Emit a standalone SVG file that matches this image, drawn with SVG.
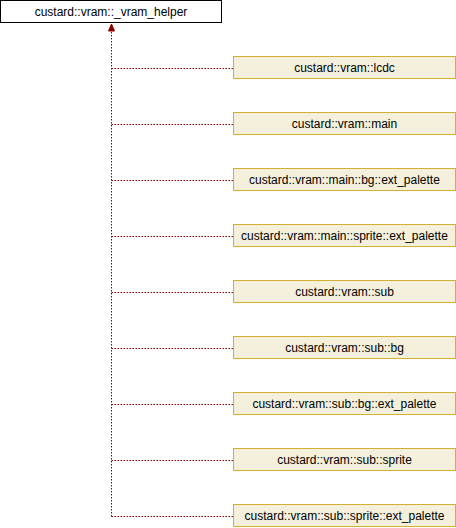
<svg xmlns="http://www.w3.org/2000/svg" width="456" height="528" viewBox="0 0 456 528">
<style>
.base rect{fill:#ffffff;stroke:#000000;stroke-width:1}
.node rect{fill:#f5f0dc;stroke:#d4b030;stroke-width:1}
text{font-family:"Liberation Sans",Arial,sans-serif;font-size:12px;text-anchor:middle;fill:#000000}
.edges path{fill:none;stroke:#8b0000;stroke-width:1;stroke-dasharray:1.5,1.5}
</style>
<defs>
<marker id="ah" markerWidth="7" markerHeight="8" refX="3" refY="0" orient="0" markerUnits="userSpaceOnUse" overflow="visible">
<path d="M0,7 L3,0 L6,7 Z" fill="#8b0000" stroke="#8b0000" stroke-dasharray="none"/>
</marker>
</defs>
<g id="edges" class="edges">
<path d="M111.5,516.5 V24" marker-end="url(#ah)"/>
<path d="M111.5,68.5 H233"/>
<path d="M111.5,124.5 H233"/>
<path d="M111.5,180.5 H233"/>
<path d="M111.5,236.5 H233"/>
<path d="M111.5,292.5 H233"/>
<path d="M111.5,348.5 H233"/>
<path d="M111.5,404.5 H233"/>
<path d="M111.5,460.5 H233"/>
<path d="M111.5,516.5 H233"/>
</g>
<g id="n0" class="base"><rect x="0.5" y="0.5" width="221" height="22"/><text x="111" y="16">custard::vram::_vram_helper</text></g>
<g id="n1" class="node"><rect x="233.5" y="56.5" width="222" height="22"/><text x="344.5" y="72">custard::vram::lcdc</text></g>
<g id="n2" class="node"><rect x="233.5" y="112.5" width="222" height="22"/><text x="344.5" y="128">custard::vram::main</text></g>
<g id="n3" class="node"><rect x="233.5" y="168.5" width="222" height="22"/><text x="344.5" y="184">custard::vram::main::bg::ext_palette</text></g>
<g id="n4" class="node"><rect x="233.5" y="224.5" width="222" height="22"/><text x="344.5" y="240">custard::vram::main::sprite::ext_palette</text></g>
<g id="n5" class="node"><rect x="233.5" y="280.5" width="222" height="22"/><text x="344.5" y="296">custard::vram::sub</text></g>
<g id="n6" class="node"><rect x="233.5" y="336.5" width="222" height="22"/><text x="344.5" y="352">custard::vram::sub::bg</text></g>
<g id="n7" class="node"><rect x="233.5" y="392.5" width="222" height="22"/><text x="344.5" y="408">custard::vram::sub::bg::ext_palette</text></g>
<g id="n8" class="node"><rect x="233.5" y="448.5" width="222" height="22"/><text x="344.5" y="464">custard::vram::sub::sprite</text></g>
<g id="n9" class="node"><rect x="233.5" y="504.5" width="222" height="22"/><text x="344.5" y="520">custard::vram::sub::sprite::ext_palette</text></g>
</svg>
